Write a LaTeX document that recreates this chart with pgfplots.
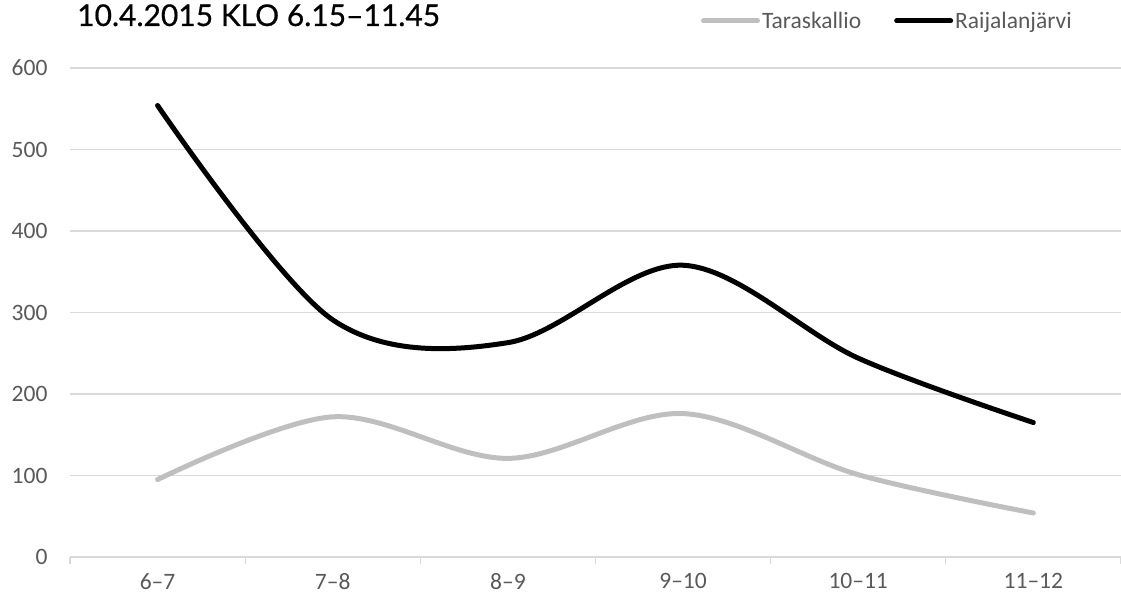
\documentclass[border=0pt]{standalone}
\usepackage{pgfplots}
\pgfplotsset{compat=1.18}
\usepackage{fontspec}
\setmainfont{Carlito}
\newfontfamily\titlefont[FakeBold=0.6]{Lato}

\definecolor{gridgray}{HTML}{D9D9D9}
\definecolor{labelgray}{HTML}{595959}
\definecolor{taragray}{HTML}{BFBFBF}

\begin{document}
\begin{tikzpicture}[x=1pt,y=1pt]
\useasboundingbox (0,0) rectangle (1121,603);
\node[anchor=base west, inner sep=0pt, font=\titlefont\fontsize{30}{33}\selectfont]
  at (77,577) {10.4.2015 KLO 6.15–11.45};
\begin{axis}[
  at={(70pt,46pt)}, anchor=south west,
  scale only axis,
  width=1051pt, height=489pt,
  xmin=-0.5, xmax=5.5,
  ymin=0, ymax=600,
  ytick={0,100,...,600},
  xtick={-0.5,0.5,...,5.5},
  x tick label as interval,
  xticklabels={6–7,7–8,8–9,9–10,10–11,11–12},
  /pgf/number format/assume math mode=true,
  axis lines*=left,
  x axis line style={gridgray, line width=1.3pt},
  y axis line style={draw=none},
  ymajorgrids,
  grid style={gridgray, line width=1.3pt},
  xtick style={gridgray, line width=1.3pt},
  ytick style={draw=none},
  major tick length=7pt,
  tick align=outside,
  ticklabel style={font=\fontsize{23.5}{26}\selectfont, text=labelgray},
  yticklabel style={xshift=-12pt},
  xticklabel style={yshift=-6pt},
  legend columns=2,
  legend style={
    at={(1,1)}, anchor=south east,
    xshift=-44pt, yshift=34pt,
    draw=none, fill=none,
    font=\fontsize{23.5}{26}\selectfont, text=labelgray,
    /tikz/every even column/.append style={column sep=31pt},
    nodes={inner sep=2pt},
  },
  legend image code/.code={\draw[#1] (0pt,0pt) -- (54pt,0pt);},
]
\addplot[taragray, line width=5pt, smooth, tension=0.55, line cap=round]
  coordinates {(0,95) (1,172) (2,121) (3,176) (4,101) (5,54)};
\addlegendentry{Taraskallio}
\addplot[black, line width=5pt, smooth, tension=0.55, line cap=round]
  coordinates {(0,554) (1,291) (2,263) (3,358) (4,244) (5,165)};
\addlegendentry{Raijalanjärvi}
\end{axis}
\end{tikzpicture}
\end{document}
